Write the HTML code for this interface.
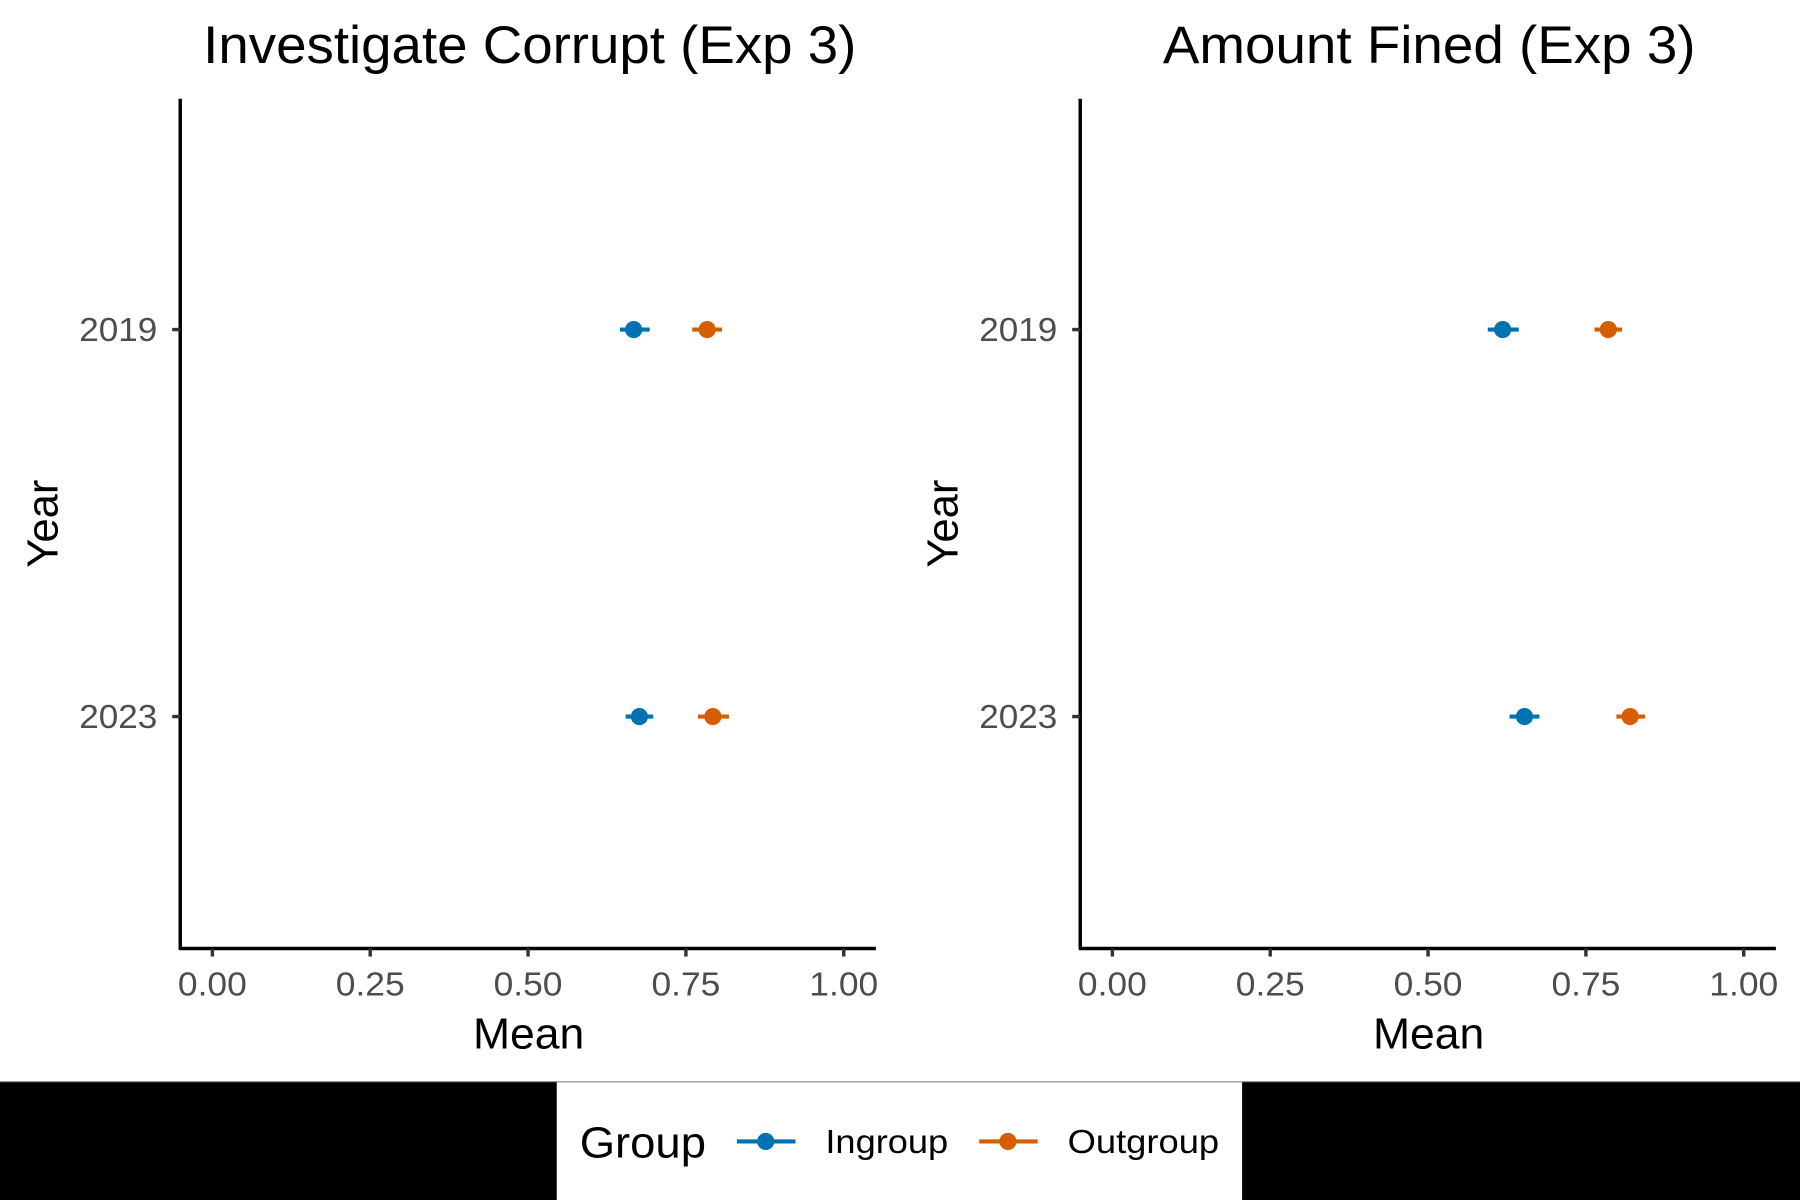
<!DOCTYPE html>
<html><head><meta charset="utf-8"><style>
html,body{margin:0;padding:0;background:#fff;}
svg{display:block;}
text{font-family:"Liberation Sans",Arial,sans-serif;}
</style></head><body>
<svg width="1800" height="1200" viewBox="0 0 1568 1045" preserveAspectRatio="none" xmlns="http://www.w3.org/2000/svg">
<rect width="1568" height="1045" fill="#fff"/>
<!-- Left panel -->
<text x="177" y="55" font-size="46" textLength="569" lengthAdjust="spacingAndGlyphs">Investigate Corrupt (Exp 3)</text>
<line x1="157" y1="86" x2="157" y2="827" stroke="#000" stroke-width="3"/>
<line x1="156" y1="826" x2="763" y2="826" stroke="#000" stroke-width="3"/>
<g stroke="#333" stroke-width="3">
<line x1="150" y1="287" x2="157" y2="287"/><line x1="150" y1="624" x2="157" y2="624"/>
<line x1="185" y1="826" x2="185" y2="833"/><line x1="322.5" y1="826" x2="322.5" y2="833"/><line x1="460" y1="826" x2="460" y2="833"/><line x1="597.5" y1="826" x2="597.5" y2="833"/><line x1="735" y1="826" x2="735" y2="833"/>
</g>
<g font-size="29" fill="#4d4d4d"><text x="69" y="297" textLength="68" lengthAdjust="spacingAndGlyphs">2019</text><text x="69" y="634" textLength="68" lengthAdjust="spacingAndGlyphs">2023</text></g>
<g font-size="29" fill="#4d4d4d"><text x="155" y="867" textLength="60" lengthAdjust="spacingAndGlyphs">0.00</text><text x="292.5" y="867" textLength="60" lengthAdjust="spacingAndGlyphs">0.25</text><text x="430" y="867" textLength="60" lengthAdjust="spacingAndGlyphs">0.50</text><text x="567.5" y="867" textLength="60" lengthAdjust="spacingAndGlyphs">0.75</text><text x="705" y="867" textLength="60" lengthAdjust="spacingAndGlyphs">1.00</text></g>
<text x="412" y="913" font-size="38" textLength="97" lengthAdjust="spacingAndGlyphs">Mean</text>
<text transform="translate(50,456) rotate(-90)" font-size="38" text-anchor="middle">Year</text>
<!-- Right panel -->
<text x="1013" y="55" font-size="46" textLength="464" lengthAdjust="spacingAndGlyphs">Amount Fined (Exp 3)</text>
<line x1="941" y1="86" x2="941" y2="827" stroke="#000" stroke-width="3"/>
<line x1="940" y1="826" x2="1547" y2="826" stroke="#000" stroke-width="3"/>
<g stroke="#333" stroke-width="3">
<line x1="934" y1="287" x2="941" y2="287"/><line x1="934" y1="624" x2="941" y2="624"/>
<line x1="969" y1="826" x2="969" y2="833"/><line x1="1106.5" y1="826" x2="1106.5" y2="833"/><line x1="1244" y1="826" x2="1244" y2="833"/><line x1="1381.5" y1="826" x2="1381.5" y2="833"/><line x1="1519" y1="826" x2="1519" y2="833"/>
</g>
<g font-size="29" fill="#4d4d4d"><text x="853" y="297" textLength="68" lengthAdjust="spacingAndGlyphs">2019</text><text x="853" y="634" textLength="68" lengthAdjust="spacingAndGlyphs">2023</text></g>
<g font-size="29" fill="#4d4d4d"><text x="939" y="867" textLength="60" lengthAdjust="spacingAndGlyphs">0.00</text><text x="1076.5" y="867" textLength="60" lengthAdjust="spacingAndGlyphs">0.25</text><text x="1214" y="867" textLength="60" lengthAdjust="spacingAndGlyphs">0.50</text><text x="1351.5" y="867" textLength="60" lengthAdjust="spacingAndGlyphs">0.75</text><text x="1489" y="867" textLength="60" lengthAdjust="spacingAndGlyphs">1.00</text></g>
<text x="1196" y="913" font-size="38" textLength="97" lengthAdjust="spacingAndGlyphs">Mean</text>
<text transform="translate(834,456) rotate(-90)" font-size="38" text-anchor="middle">Year</text>
<!-- points -->
<g stroke-width="3.5">
<line x1="540" y1="287" x2="566" y2="287" stroke="#0072B2"/><circle cx="552" cy="287" r="7.5" fill="#0072B2"/>
<line x1="603" y1="287" x2="629" y2="287" stroke="#D55E00"/><circle cx="616" cy="287" r="7.5" fill="#D55E00"/>
<line x1="545" y1="624" x2="569" y2="624" stroke="#0072B2"/><circle cx="557" cy="624" r="7.5" fill="#0072B2"/>
<line x1="608" y1="624" x2="635" y2="624" stroke="#D55E00"/><circle cx="621" cy="624" r="7.5" fill="#D55E00"/>
<line x1="1296" y1="287" x2="1323" y2="287" stroke="#0072B2"/><circle cx="1309" cy="287" r="7.5" fill="#0072B2"/>
<line x1="1389" y1="287" x2="1413" y2="287" stroke="#D55E00"/><circle cx="1401" cy="287" r="7.5" fill="#D55E00"/>
<line x1="1315" y1="624" x2="1341" y2="624" stroke="#0072B2"/><circle cx="1328" cy="624" r="7.5" fill="#0072B2"/>
<line x1="1408" y1="624" x2="1433" y2="624" stroke="#D55E00"/><circle cx="1420" cy="624" r="7.5" fill="#D55E00"/>
</g>
<!-- legend band -->
<rect x="0" y="942" width="1568" height="103" fill="#000"/>
<line x1="0" y1="942" x2="1568" y2="942" stroke="#888" stroke-width="1"/>
<rect x="485" y="943" width="597" height="102" fill="#fff"/>
<line x1="485" y1="942.5" x2="1082" y2="942.5" stroke="#ddd" stroke-width="1"/>
<text x="505" y="1008" font-size="38" textLength="110" lengthAdjust="spacingAndGlyphs">Group</text>
<line x1="642" y1="994" x2="693" y2="994" stroke="#0072B2" stroke-width="3.5"/><circle cx="667" cy="994" r="7.5" fill="#0072B2"/>
<text x="719" y="1004" font-size="29" textLength="107" lengthAdjust="spacingAndGlyphs">Ingroup</text>
<line x1="853" y1="994" x2="904" y2="994" stroke="#D55E00" stroke-width="3.5"/><circle cx="878" cy="994" r="7.5" fill="#D55E00"/>
<text x="930" y="1004" font-size="29" textLength="132" lengthAdjust="spacingAndGlyphs">Outgroup</text>
</svg>
</body></html>
